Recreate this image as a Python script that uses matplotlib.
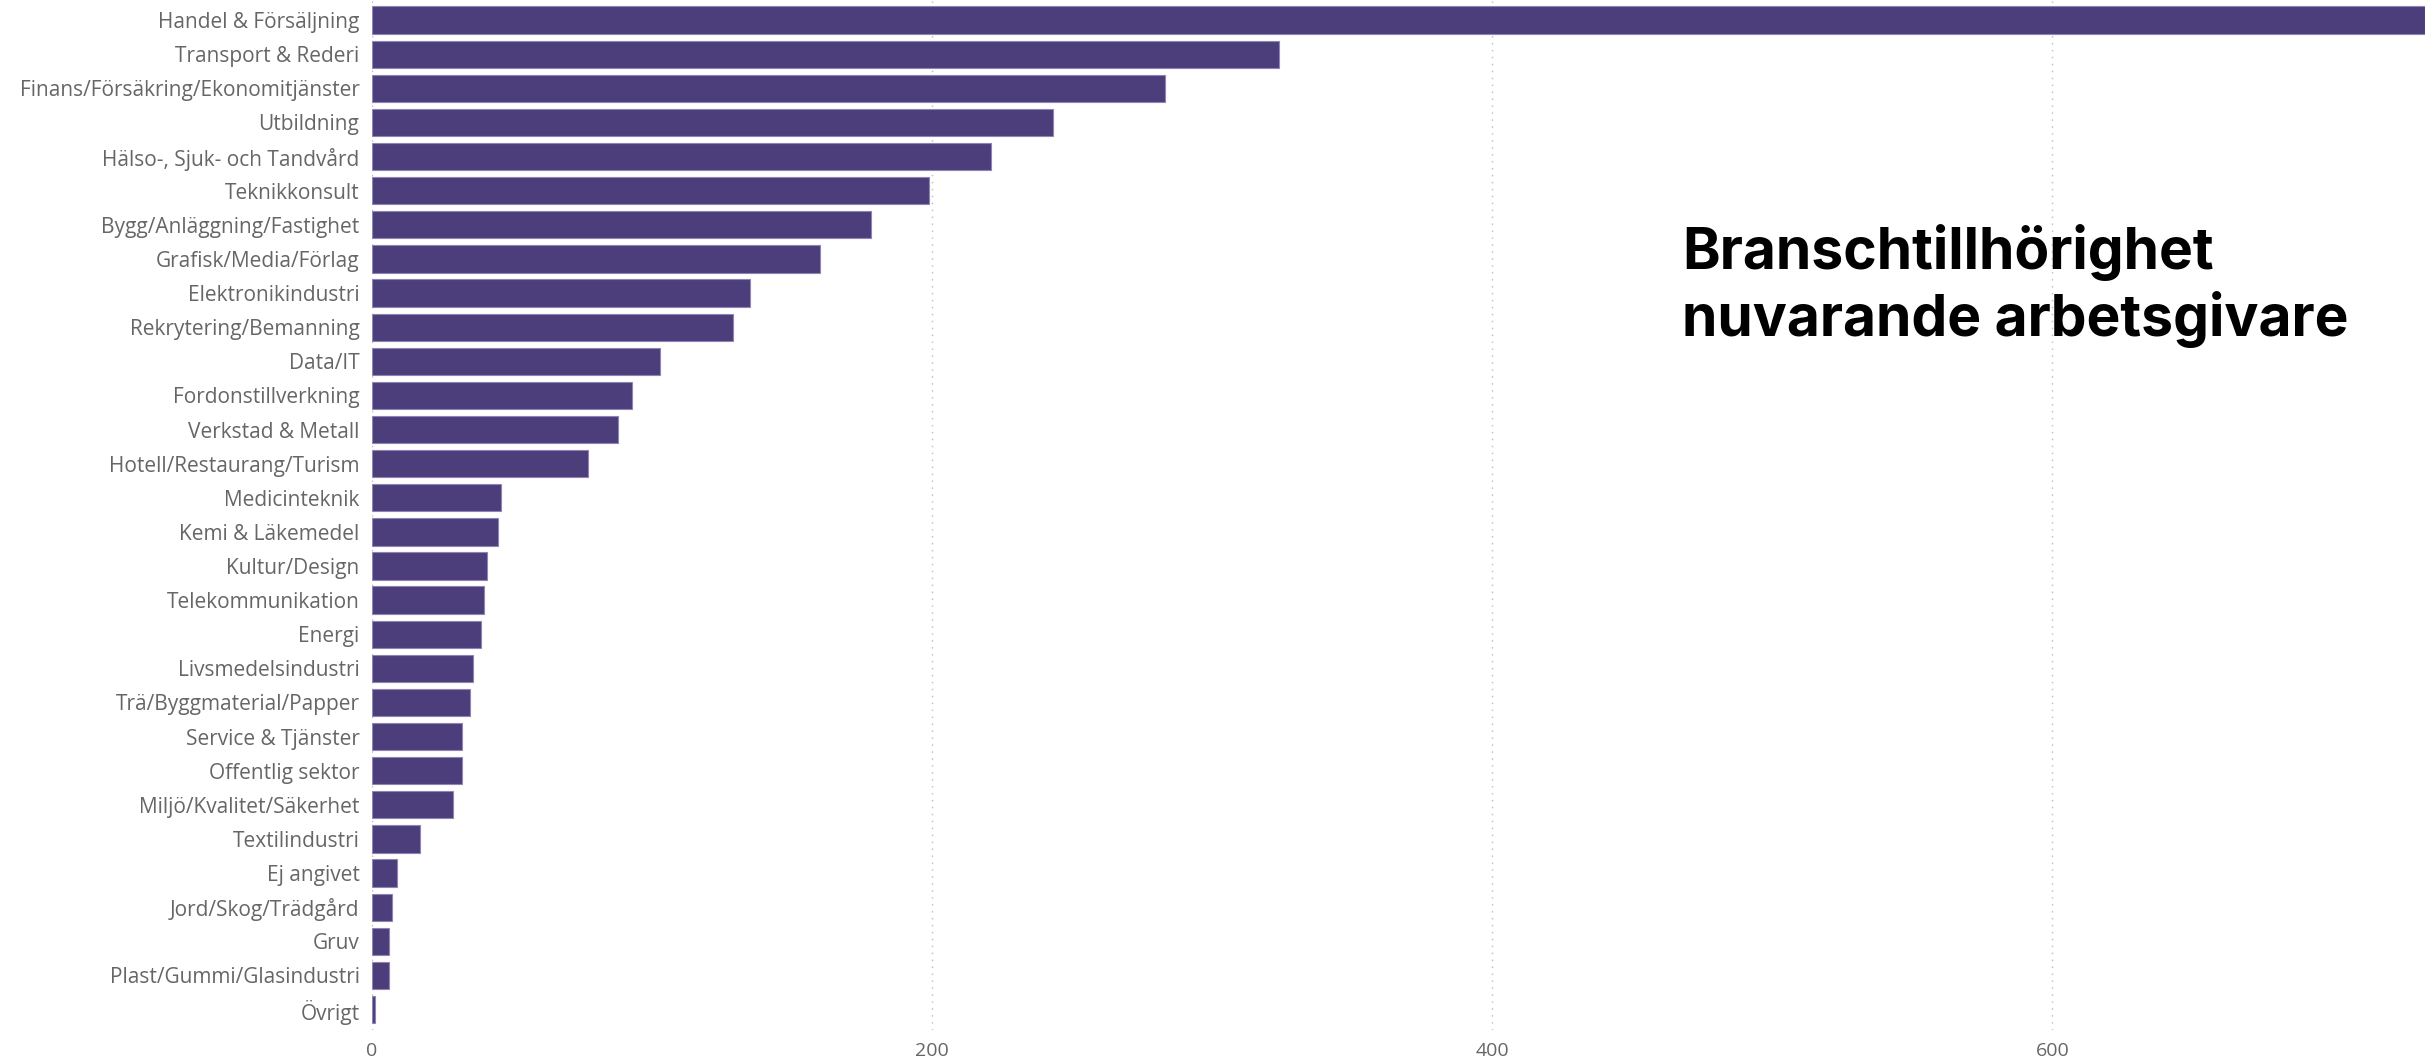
import matplotlib
matplotlib.use("Agg")
import matplotlib.pyplot as plt

# branscher, sorterade efter antal
branscher = [
    "Handel & Försäljning", "Transport & Rederi", "Finans/Försäkring/Ekonomitjänster",
    "Utbildning", "Hälso-, Sjuk- och Tandvård", "Teknikkonsult",
    "Bygg/Anläggning/Fastighet", "Grafisk/Media/Förlag", "Elektronikindustri",
    "Rekrytering/Bemanning", "Data/IT", "Fordonstillverkning", "Verkstad & Metall",
    "Hotell/Restaurang/Turism", "Medicinteknik", "Kemi & Läkemedel", "Kultur/Design",
    "Telekommunikation", "Energi", "Livsmedelsindustri", "Trä/Byggmaterial/Papper",
    "Service & Tjänster", "Offentlig sektor", "Miljö/Kvalitet/Säkerhet",
    "Textilindustri", "Ej angivet", "Jord/Skog/Trädgård", "Gruv",
    "Plast/Gummi/Glasindustri", "Övrigt",
]
antal = [733, 324, 283, 243, 221, 199, 178, 160, 135, 129, 103, 93, 88, 77,
         46, 45, 41, 40, 39, 36, 35, 32, 32, 29, 17, 9, 7, 6, 6, 1]
x_ticks = [0, 200, 400, 600]

title = "Branschtillhörighet\nnuvarande arbetsgivare"

fig = plt.figure(figsize=(24.25, 10.64), dpi=100)
ax = fig.add_axes([372 / 2425, 1 - 1030 / 1064, 1 - 372 / 2425, 1030 / 1064])

pos = list(range(len(branscher)))
ax.barh(pos, antal, height=0.8, color="#4c3e7a", edgecolor="#8f84b5", linewidth=0.8, zorder=3)

ax.set_ylim(29.6, -0.59)
ax.set_xlim(0, 733)

ax.set_yticks(pos)
ax.set_yticklabels(branscher, fontsize=15, color="#666666", family="Open Sans")
ax.set_xticks(x_ticks)
ax.set_xticklabels([str(t) for t in x_ticks], fontsize=14, color="#666666", family="Open Sans")
ax.tick_params(axis="y", length=0, pad=9)
ax.tick_params(axis="x", length=0, pad=9)

ax.grid(axis="x", linestyle=(0, (1, 4)), color="#bbbbbb", linewidth=1, zorder=0)
ax.grid(axis="y", visible=False)
for s in ax.spines.values():
    s.set_visible(False)

fig.text(1682 / 2425, 1 - 286 / 1064, title, ha="left", va="center",
         fontsize=41, fontweight="bold", family="Inter", color="black", linespacing=1.22)

fig.savefig("out.png", dpi=100)
